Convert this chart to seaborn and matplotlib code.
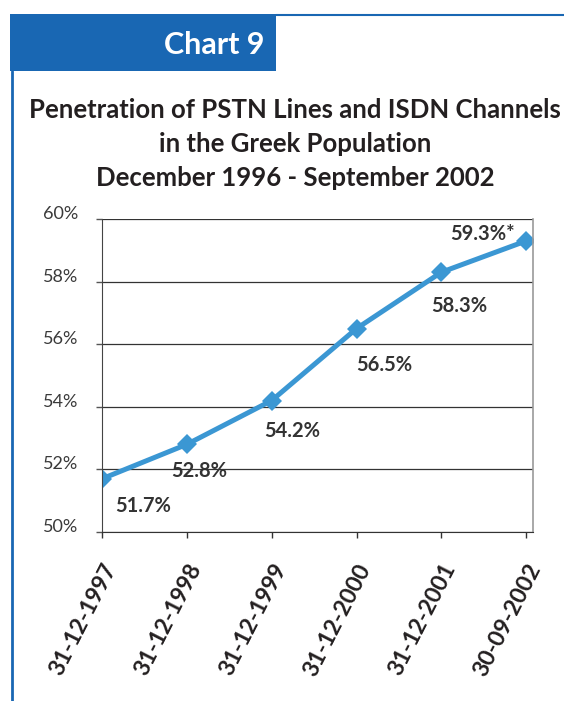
import pandas as pd
import matplotlib.pyplot as plt
import seaborn as sns
from matplotlib.patches import Rectangle
from matplotlib.lines import Line2D
from matplotlib.transforms import ScaledTranslation

sns.set_style("white")
plt.rcParams["font.family"] = ["Lato", "DejaVu Sans"]

# Data
dates = ["31-12-1997", "31-12-1998", "31-12-1999", "31-12-2000", "31-12-2001", "30-09-2002"]
penetration = [51.7, 52.8, 54.2, 56.5, 58.3, 59.3]
point_labels = ["51.7%", "52.8%", "54.2%", "56.5%", "58.3%", "59.3%*"]
y_ticks = [50, 52, 54, 56, 58, 60]

df = pd.DataFrame({"idx": range(len(dates)), "value": penetration})

W, H = 564, 701
fig = plt.figure(figsize=(W / 100, H / 100), dpi=100)

def px(x, y):
    return x / W, 1 - y / H

blue = "#1967b3"
line_blue = "#3b97d3"

# header box and frame
x0, y0 = px(10, 71)
fig.add_artist(Rectangle((x0, y0), 266 / W, 57 / H, transform=fig.transFigure,
                         facecolor=blue, edgecolor="none"))
fig.add_artist(Line2D([276 / W, 1], [1 - 15 / H] * 2, transform=fig.transFigure,
                      color=blue, lw=1.5))
fig.add_artist(Line2D([12 / W] * 2, [0, 1 - 71 / H], transform=fig.transFigure,
                      color=blue, lw=2))
fig.text(*px(214, 45), "Chart 9", color="white", fontsize=22, fontweight="bold",
         ha="center", va="center")

title = ("Penetration of PSTN Lines and ISDN Channels\n"
         "in the Greek Population\n"
         "December 1996 - September 2002")
fig.text(*px(295, 144), title, ha="center", va="center", fontsize=18.5,
         fontweight="bold", color="#231f20", linespacing=1.5)

ax = fig.add_axes([102 / W, 1 - 532 / H, 431 / W, 313 / H])
sns.lineplot(data=df, x="idx", y="value", ax=ax, color=line_blue, lw=3.6,
             marker="D", markersize=10.5, markeredgewidth=0, markeredgecolor=line_blue)

ax.set_xlim(0, 5.08)
ax.set_ylim(50, 60)
ax.set_yticks(y_ticks)
ax.set_yticklabels([])
ax.set_xticks(range(len(dates)))
ax.set_xticklabels([])
ax.set_xlabel("")
ax.set_ylabel("")
ax.grid(axis="y", color="#333333", lw=0.9)
ax.tick_params(axis="y", length=4, width=1, color="#555555", left=True)
ax.tick_params(axis="x", length=4, width=1, color="#333333", direction="out", bottom=True)
ax.spines["left"].set_color("#444444")
ax.spines["bottom"].set_color("#333333")
ax.spines["top"].set_visible(False)
ax.spines["right"].set_color("#999999")
ax.spines["right"].set_linewidth(1.2)

# tick labels, placed by hand so they can be offset like the original
xoff = ax.get_xaxis_transform() + ScaledTranslation(9 / 100, -33 / 100, fig.dpi_scale_trans)
for i, d in enumerate(dates):
    ax.text(i, 0, d, transform=xoff, rotation=63, ha="right", va="center",
            rotation_mode="anchor", fontsize=16.5, fontweight="bold", color="#231f20")
yoff = ax.get_yaxis_transform() + ScaledTranslation(-24 / 100, 5 / 100, fig.dpi_scale_trans)
for v in y_ticks:
    ax.text(0, v, f"{v}%", transform=yoff, ha="right", va="center",
            fontsize=13, color="#3a3a3a")

# point labels
offsets = [(0.48, -0.86), (0.15, -0.86), (0.24, -0.96), (0.33, -1.18), (0.21, -1.09), (-0.51, 0.22)]
for i, (v, lab) in enumerate(zip(penetration, point_labels)):
    dx, dy = offsets[i]
    ax.text(i + dx, v + dy, lab, ha="center", va="center", fontsize=14.5,
            fontweight="bold", color="#333333")

fig.savefig("out.png", dpi=100)
